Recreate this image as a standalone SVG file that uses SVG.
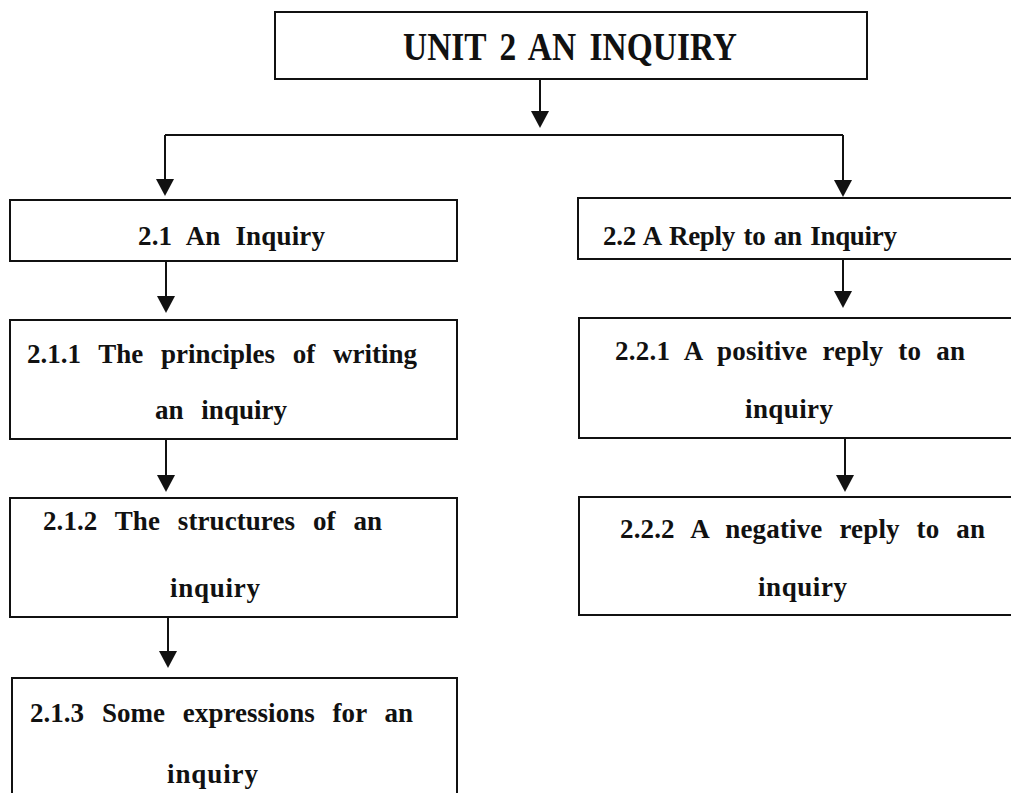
<svg xmlns="http://www.w3.org/2000/svg" width="1011" height="793" viewBox="0 0 1011 793">
<style>
.box{fill:#fff;stroke:#111;stroke-width:2}
.lbl{font-family:"Liberation Serif","Times New Roman",serif;font-weight:bold;font-size:27px;fill:#111}
.ttl{font-family:"Liberation Serif","Times New Roman",serif;font-weight:bold;font-size:39px;fill:#111}
.con{fill:none;stroke:#111;stroke-width:2}
.head{fill:#111}
</style>
<rect width="1011" height="793" fill="#fff"/>
<g id="connectors">
<path class="con" d="M165,135 L843,135"/>
<path class="con" d="M540,79 L540,111"/>
<polygon class="head" points="531,111 549,111 540,128"/>
<path class="con" d="M165,135 L165,180"/>
<polygon class="head" points="156,179 174,179 165,196"/>
<path class="con" d="M843,135 L843,181"/>
<polygon class="head" points="834,180 852,180 843,197"/>
<path class="con" d="M166,261 L166,297"/>
<polygon class="head" points="157,296 175,296 166,313"/>
<path class="con" d="M166,439 L166,476"/>
<polygon class="head" points="157,475 175,475 166,492"/>
<path class="con" d="M168,617 L168,652"/>
<polygon class="head" points="159,651 177,651 168,668"/>
<path class="con" d="M843,259 L843,292"/>
<polygon class="head" points="834,291 852,291 843,308"/>
<path class="con" d="M845,432 L845,476"/>
<polygon class="head" points="836,475 854,475 845,492"/>
</g>
<g id="n-unit">
<rect class="box" x="275" y="12" width="592" height="67"/>
<text class="ttl" x="403" y="60" word-spacing="6" textLength="334" lengthAdjust="spacingAndGlyphs">UNIT 2 AN INQUIRY</text>
</g>
<g id="n-2-1">
<rect class="box" x="10" y="200" width="447" height="61"/>
<text class="lbl" x="138" y="245" word-spacing="8" textLength="187">2.1 An Inquiry</text>
</g>
<g id="n-2-2">
<rect class="box" x="578" y="198" width="440" height="61"/>
<text class="lbl" x="603" y="245" word-spacing="2" textLength="294">2.2 A Reply to an Inquiry</text>
</g>
<g id="n-2-1-1">
<rect class="box" x="10" y="320" width="447" height="119"/>
<text class="lbl" x="27" y="363" word-spacing="11" textLength="390">2.1.1 The principles of writing</text>
<text class="lbl" x="155" y="419" word-spacing="11" textLength="132">an inquiry</text>
</g>
<g id="n-2-1-2">
<rect class="box" x="10" y="498" width="447" height="119"/>
<text class="lbl" x="43" y="530" word-spacing="11" textLength="339">2.1.2 The structures of an</text>
<text class="lbl" x="170" y="597" textLength="90">inquiry</text>
</g>
<g id="n-2-1-3">
<rect class="box" x="12" y="678" width="445" height="130"/>
<text class="lbl" x="30" y="722" word-spacing="11" textLength="383">2.1.3 Some expressions for an</text>
<text class="lbl" x="167" y="783" textLength="91">inquiry</text>
</g>
<g id="n-2-2-1">
<rect class="box" x="579" y="318" width="440" height="120"/>
<text class="lbl" x="615" y="360" word-spacing="8" textLength="350">2.2.1 A positive reply to an</text>
<text class="lbl" x="745" y="418" textLength="88">inquiry</text>
</g>
<g id="n-2-2-2">
<rect class="box" x="579" y="497" width="440" height="118"/>
<text class="lbl" x="620" y="538" word-spacing="10" textLength="365">2.2.2 A negative reply to an</text>
<text class="lbl" x="758" y="596" textLength="89">inquiry</text>
</g>
</svg>
